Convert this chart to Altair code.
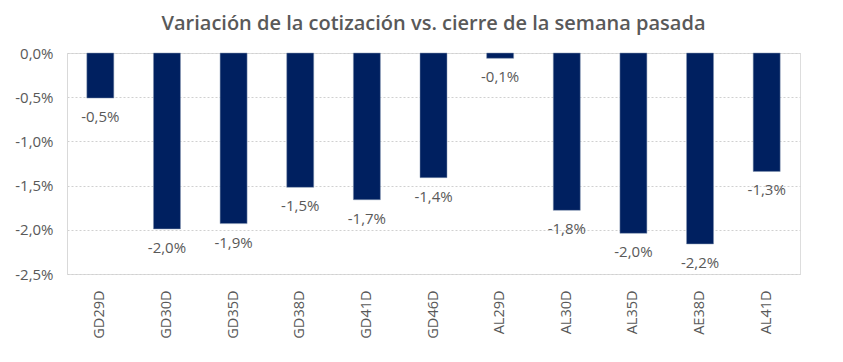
import altair as alt
import pandas as pd

bonos = ["GD29D", "GD30D", "GD35D", "GD38D", "GD41D", "GD46D",
         "AL29D", "AL30D", "AL35D", "AE38D", "AL41D"]
variacion = [-0.0051, -0.0199, -0.0193, -0.0152, -0.0166, -0.0141,
             -0.0006, -0.0178, -0.0204, -0.0216, -0.0134]
y_ticks = [0, -0.005, -0.01, -0.015, -0.02, -0.025]

df = pd.DataFrame({"bono": bonos, "v": variacion})

FONT = "Open Sans"
GRAY = "#595959"
FMT = "replace(replace(format({v}, '.1%'), '.', ','), '\u2212', '-')"

base = alt.Chart(df).transform_calculate(lbl=FMT.format(v="datum.v"))

bars = base.mark_bar(color="#002060", size=27, stroke="#8497B0", strokeWidth=0.5).encode(
    x=alt.X("bono:N", sort=bonos, title=None,
            scale=alt.Scale(paddingInner=0.0, paddingOuter=0.0),
            axis=alt.Axis(orient="bottom", labelAngle=-90, labelAlign="right",
                          labelBaseline="middle", labelPadding=16, domain=False,
                          ticks=False, labelFont=FONT, labelFontSize=14.5,
                          labelColor=GRAY)),
    y=alt.Y("v:Q", title=None,
            scale=alt.Scale(domain=[-0.025, 0], nice=False),
            axis=alt.Axis(values=y_ticks,
                          labelExpr=FMT.format(v="datum.value"),
                          labelFont=FONT, labelFontSize=15, labelColor=GRAY,
                          labelPadding=14, ticks=False, domain=True,
                          domainColor="#D9D9D9", grid=True, gridColor="#D0D0D0",
                          gridDash=[2, 2], gridWidth=1)),
)

labels = base.mark_text(baseline="top", dy=12, font=FONT, fontSize=15, color=GRAY).encode(
    x=alt.X("bono:N", sort=bonos),
    y="v:Q",
    text="lbl:N",
)

chart = (bars + labels).properties(
    width=733, height=221,
    autosize=alt.AutoSizeParams(type="none"),
    padding={"left": 59, "top": 45, "right": 35, "bottom": 80},
    title=alt.TitleParams(
        "Variación de la cotización vs. cierre de la semana pasada",
        font=FONT, fontSize=20, fontWeight=600, color=GRAY, offset=12,
        anchor="middle",
    ),
).configure_view(stroke=None).configure(background="white")

chart.save("out.html", embed_options={"renderer": "svg", "actions": False})
